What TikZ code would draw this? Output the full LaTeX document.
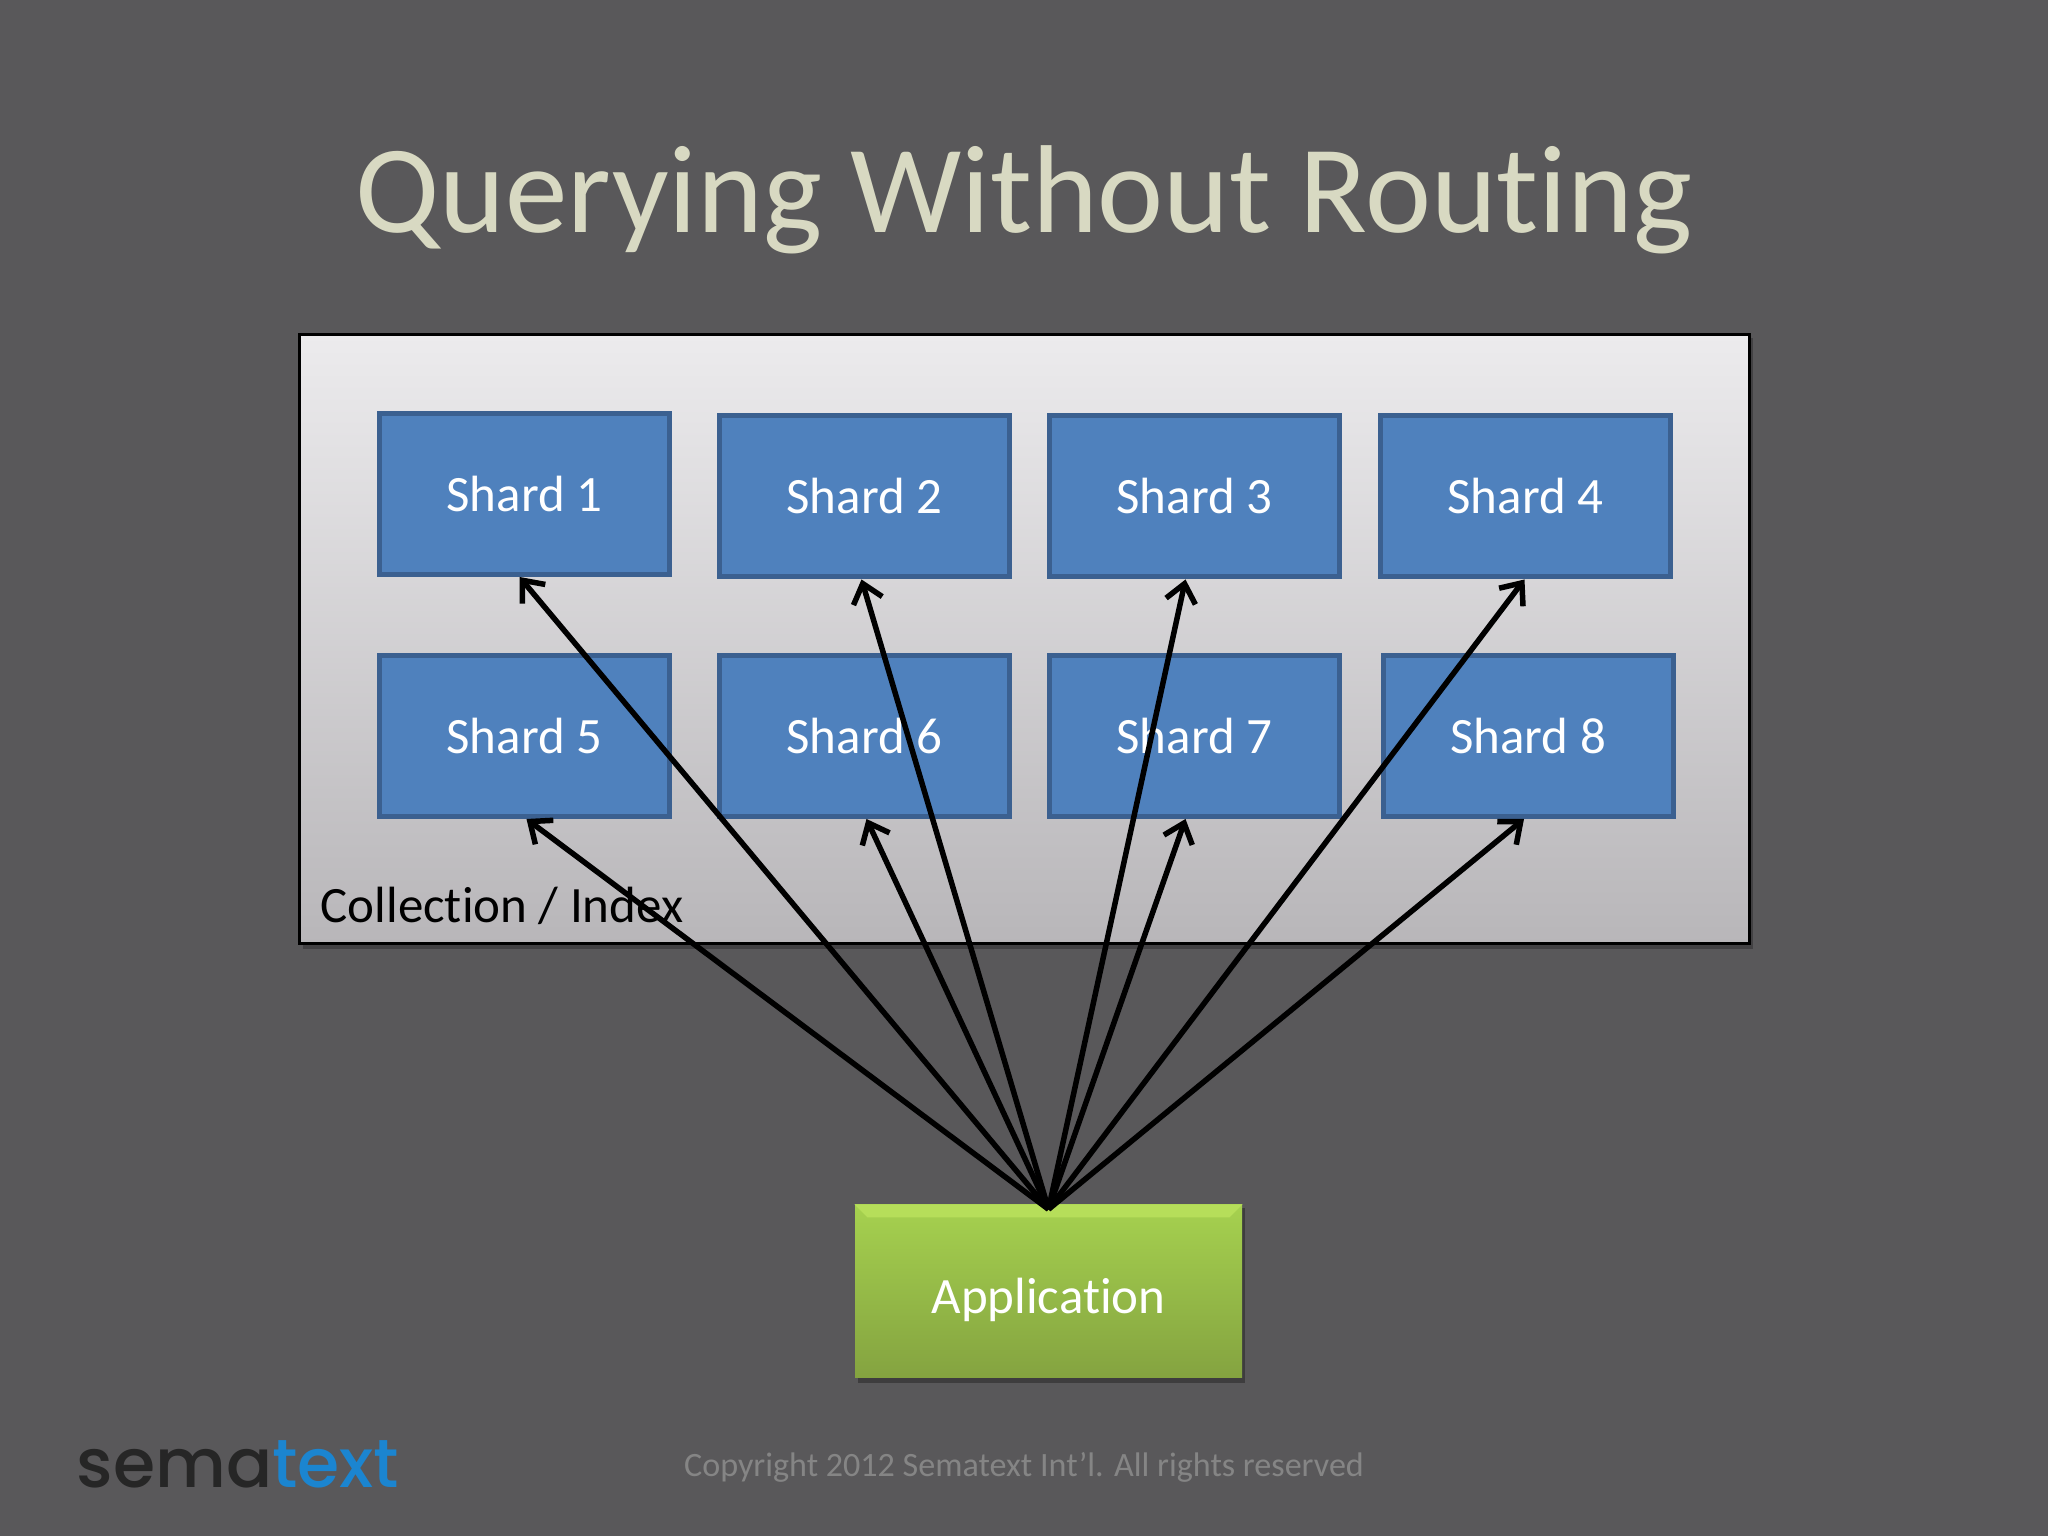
\documentclass[tikz,border=0pt]{standalone}
\usepackage{fontspec}
\usetikzlibrary{arrows.meta}
\setmainfont[Ligatures=NoCommon]{Carlito}
\newfontfamily\logofont{Poppins Medium}
\definecolor{slidebg}{HTML}{59585A}
\definecolor{titlecol}{HTML}{D8D9C2}
\definecolor{boxtop}{HTML}{ECEBED}
\definecolor{boxbot}{HTML}{B8B6B9}
\definecolor{shardfill}{HTML}{4F81BD}
\definecolor{shardline}{HTML}{3B6090}
\definecolor{logoblue}{HTML}{1B85D0}
\definecolor{appgreen}{HTML}{A6D14F}
\definecolor{appdark}{HTML}{84A340}
\definecolor{appglow}{HTML}{B6DE5A}
\tikzset{
	shard/.style={draw=shardline,fill=shardfill,line width=0.05cm,minimum width=2.9cm,minimum height=1.61cm,text=white,font=\fontsize{14.5}{16}\selectfont},
	query/.style={-{Straight Barb[length=0.18cm,width=0.3cm,line width=0.055cm]},line width=0.055cm,black}
}
\begin{document}
\begin{tikzpicture}
		\fill[slidebg] (0,0) rectangle (20.48,15.36);
		\useasboundingbox (0,0) rectangle (20.48,15.36);
		\node[anchor=base,text=titlecol,font=\fontsize{35.6}{40}\selectfont] (title) at (10.24,13.03) {Querying Without Routing};
		\fill[black,opacity=0.25] (3.03,5.87) rectangle (17.53,11.98);
		\draw[black,line width=0.03cm,top color=boxtop,bottom color=boxbot] (2.99,5.92) rectangle (17.49,12.01);
		\node[anchor=base west,inner sep=0pt,font=\fontsize{14.5}{16}\selectfont] (coll) at (3.2,6.135) {Collection / Index};
		\node[shard] (s1) at (5.245,10.42) {Shard 1};
		\node[shard] (s2) at (8.645,10.395) {Shard 2};
		\node[shard] (s3) at (11.945,10.395) {Shard 3};
		\node[shard] (s4) at (15.255,10.395) {Shard 4};
		\node[shard] (s5) at (5.245,8.00) {Shard 5};
		\node[shard] (s6) at (8.645,8.00) {Shard 6};
		\node[shard] (s7) at (11.945,8.00) {Shard 7};
		\node[shard] (s8) at (15.28,8.00) {Shard 8};
		\fill[black,opacity=0.3] (8.58,1.53) rectangle (12.45,3.28);
		\node[top color=appgreen,bottom color=appdark,minimum width=3.87cm,minimum height=1.73cm,text=white,text height=0.44cm,text depth=0pt,font=\fontsize{14.5}{16}\selectfont] (app) at (10.485,2.445) {Application};
		\fill[appglow] (app.north west)--(app.north east)--([xshift=-0.13cm,yshift=-0.13cm]app.north east)--([xshift=0.13cm,yshift=-0.13cm]app.north west)--cycle;
		\draw[query] ([yshift=-0.05cm]app.north) -- ([xshift=-0.05cm]s1.south);
		\draw[query] ([yshift=-0.05cm]app.north) -- ([xshift=-0.03cm]s2.south);
		\draw[query] ([yshift=-0.05cm]app.north) -- ([xshift=-0.09cm]s3.south);
		\draw[query] ([yshift=-0.05cm]app.north) -- ([xshift=-0.01cm]s4.south);
		\draw[query] ([yshift=-0.05cm]app.north) -- ([xshift=0.02cm]s5.south);
		\draw[query] ([yshift=-0.05cm]app.north) -- ([xshift=0.02cm]s6.south);
		\draw[query] ([yshift=-0.05cm]app.north) -- ([xshift=-0.09cm]s7.south);
		\draw[query] ([yshift=-0.05cm]app.north) -- ([xshift=-0.04cm]s8.south);
		\node[anchor=base,text=black!48,font=\fontsize{9.7}{12}\selectfont] (copy) at (10.24,0.59) {Copyright 2012 Sematext Int’l. All rights reserved};
		\node[anchor=base west,inner sep=0pt,font=\logofont\fontsize{19.4}{21}\selectfont] (logo) at (0.76,0.48) {\textcolor{black!85}{sema}\textcolor{logoblue}{text}};
	\end{tikzpicture}
\end{document}
